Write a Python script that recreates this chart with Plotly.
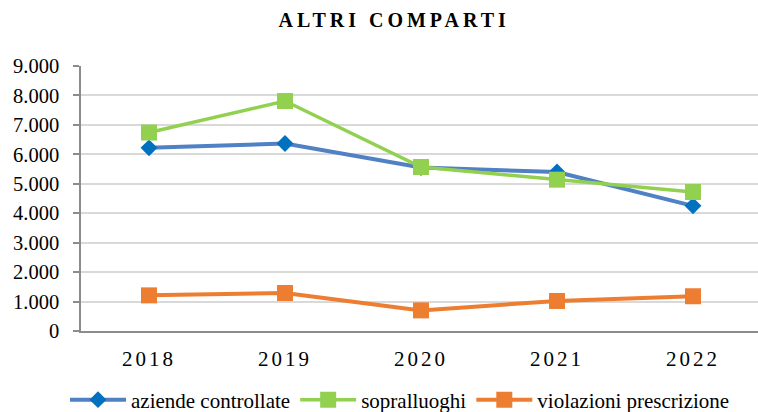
import plotly.graph_objects as go

years = ["2018", "2019", "2020", "2021", "2022"]
aziende = [6220, 6370, 5550, 5400, 4250]
sopralluoghi = [6740, 7810, 5570, 5140, 4720]
violazioni = [1210, 1290, 700, 1020, 1180]
y_ticks = [0, 1000, 2000, 3000, 4000, 5000, 6000, 7000, 8000, 9000]
y_tick_labels = ["0", "1.000", "2.000", "3.000", "4.000", "5.000", "6.000", "7.000", "8.000", "9.000"]
title_text = "ALTRI COMPARTI"

FONT = "Liberation Serif"

fig = go.Figure()
fig.add_trace(go.Scatter(
    x=years, y=aziende, name="aziende controllate", mode="lines+markers",
    line=dict(color="#4F81C4", width=4),
    marker=dict(symbol="diamond", size=13, color="#0070C0"),
))
fig.add_trace(go.Scatter(
    x=years, y=sopralluoghi, name="sopralluoghi", mode="lines+markers",
    line=dict(color="#92D050", width=3.5),
    marker=dict(symbol="square", size=16, color="#92D050"),
))
fig.add_trace(go.Scatter(
    x=years, y=violazioni, name="violazioni prescrizione", mode="lines+markers",
    line=dict(color="#ED7D31", width=4),
    marker=dict(symbol="square", size=16, color="#ED7D31"),
))

fig.update_layout(
    width=758, height=412,
    margin=dict(l=81, r=0, t=66, b=81, autoexpand=False),
    paper_bgcolor="white", plot_bgcolor="white",
    font=dict(family=FONT, color="black", size=20),
    title=dict(
        text='<span style="letter-spacing:4px"><b>' + title_text + '</b></span>',
        x=0.52, xanchor="center", xref="container",
        y=1 - 20 / 412, yanchor="middle", yref="container",
        font=dict(family=FONT, size=20, color="black"),
    ),
    showlegend=True,
    legend=dict(
        orientation="h", x=400 / 758, xanchor="center", xref="container",
        y=12 / 412, yanchor="middle", yref="container",
        font=dict(family=FONT, size=21, color="black"),
        itemwidth=56, tracegroupgap=0,
    ),
)
fig.update_xaxes(
    type="category", range=[-0.5, 4.478],
    tickvals=years,
    ticktext=['<span style="letter-spacing:3px">' + t + '</span>' for t in years],
    showgrid=False, showline=True, linecolor="#8C8C8C", linewidth=2,
    ticks="", tickfont=dict(family=FONT, size=21, color="black"),
    ticklabelstandoff=8,
)
fig.update_yaxes(
    range=[0, 9000], tickvals=y_ticks, ticktext=y_tick_labels,
    showgrid=True, gridcolor="#D9D9D9", gridwidth=1.5,
    showline=True, linecolor="#8C8C8C", linewidth=1.5,
    ticks="outside", ticklen=6, tickcolor="#8C8C8C", tickwidth=1.5,
    tickfont=dict(family=FONT, size=20.5, color="black"),
    ticklabelstandoff=10, zeroline=False,
)

fig.write_html("out.html", config={"displayModeBar": False},
               post_script="document.body.style.margin='0';")
